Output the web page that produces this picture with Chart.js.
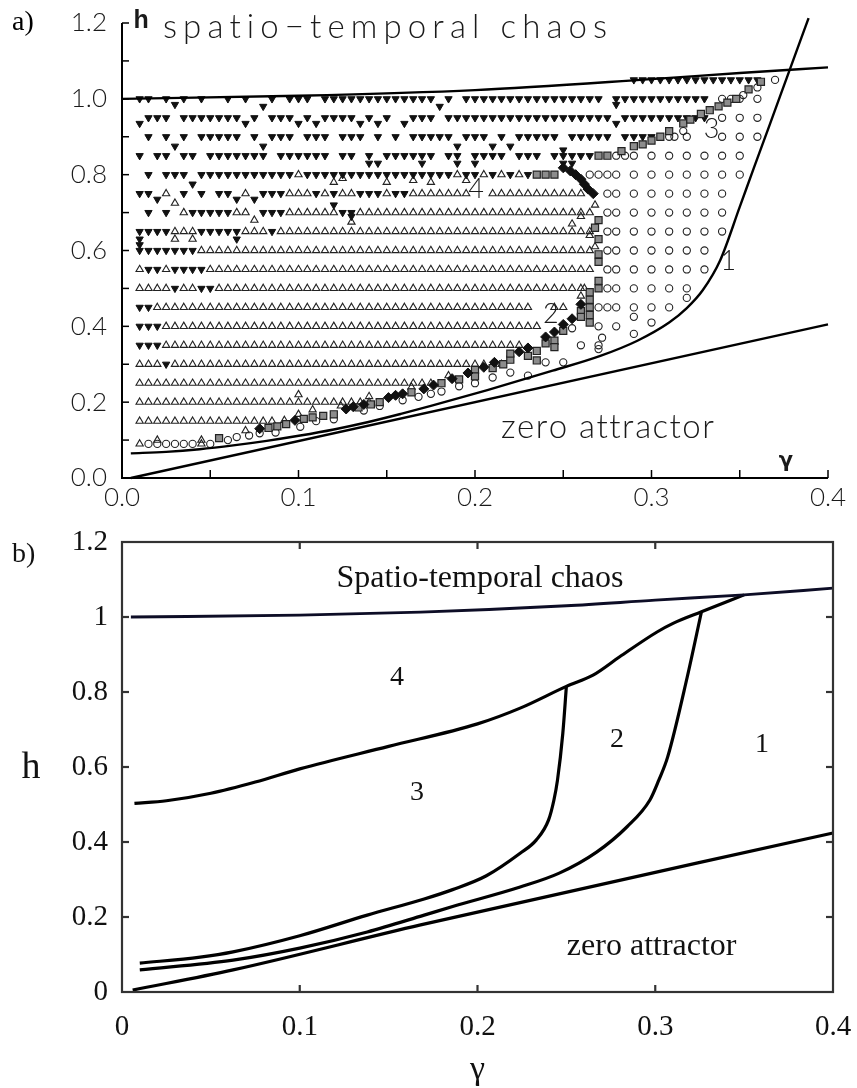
<!DOCTYPE html>
<html>
<head>
<meta charset="utf-8">
<script src="https://cdn.jsdelivr.net/npm/chart.js@4.4.1/dist/chart.umd.min.js"></script>
<style>
    html, body { margin: 0; padding: 0; background: #fff; }
    #wrapA { position: absolute; left: 0; top: 0; width: 857px; height: 515px; }
    #wrapB { position: absolute; left: 0; top: 515px; width: 857px; height: 573px; }
</style>
</head>
<body>
<div id="wrapA"><canvas id="chartA"></canvas></div>
<div id="wrapB"><canvas id="chartB"></canvas></div>
<script>
// ---------- panel a) : simulation grid ----------
// gamma of each grid column
const gridGamma = [
    0.010, 0.015, 0.020, 0.025, 0.030, 0.035, 0.040, 0.045, 0.050, 0.055,
    0.060, 0.065, 0.070, 0.075, 0.080, 0.085, 0.090, 0.095, 0.100, 0.105,
    0.110, 0.115, 0.120, 0.125, 0.130, 0.135, 0.140, 0.145, 0.150, 0.155,
    0.160, 0.165, 0.170, 0.175, 0.180, 0.185, 0.190, 0.195, 0.200, 0.205,
    0.210, 0.215, 0.220, 0.225, 0.230, 0.235, 0.240, 0.245, 0.250, 0.255,
    0.260, 0.265, 0.270, 0.275, 0.280, 0.285, 0.290, 0.295, 0.300, 0.305,
    0.310, 0.315, 0.320, 0.325, 0.330, 0.335, 0.340, 0.345, 0.350, 0.355,
    0.360, 0.365, 0.370
];
const gridRowsH = [1.05, 1.0, 0.95, 0.9, 0.85, 0.8, 0.75, 0.7, 0.65, 0.6,
                   0.55, 0.5, 0.45, 0.4, 0.35, 0.3, 0.25, 0.2, 0.15, 0.09];
// v = filled down triangle, a = open triangle, o = open circle, . = nothing
const gridRows = [
    ".......... .......... .......... .......... .......... ......vvvv vvvvvvvvvv v.o",
    "vv.v.v.v.. v.v..v.vvv .vvvvvvvvv vvvv.v.vvv vvvvvvvvvv vvv.vvvvvv vvvvv.ooo. o..",
    ".vvv.vvvvv vv.v.vvv.v .vvvv.v.v. .vvv.vvvvv vvvvvvvvvv vvvv.vvvvv vvvvv.o.o. o..",
    ".v.v.v.vvv vv.v.vvv.v vv.vvv.v.v .vvvvv.vvv .v.vvvvv.v vvvv.vvvv. o.o...o.o. o..",
    "v.vv.vv.vv vvvvv.vvvv vv.vv.v.vv vvvv.vv.vv vv.vvv.vvv vv..ooo.o. o.o.o.o.o. ...",
    ".v.vvv.vvv vvvvvvvvav vvvvvvvvvv vvvvvvavva vavav..... .oooo.o.o. o.o.o.o.o. ...",
    "vv.a.v.v.v v.a.vvvaaa vavaavvvav vaaaaaaa.. aaaaaaaaaa a..oo.o.o. o.o.o.o... ...",
    ".v.v.avvvv vaa.vvvaaa aaavvaaaaa aaaaaaaaaa aaaaaaaaaa aa.oo.o.o. o.o.o.o... ...",
    "vvvvaaavvv vvaaavaaaa aaaaaaaaaa aaaaaaaaaa aaaaaaaaaa aa.oo.o.o. o.o.o.o... ...",
    "vvvvvvvaaa aaaaaaaaaa aaaaaaaaaa aaaaaaaaaa aaaaaaaaaa aa.oo.o.o. o.o.o..... ...",
    "avvavvvvaa aaaaaaaaaa aaaaaaaaaa aaaaaaaaaa aaaaaaaaaa aa.oo.o.o. o.o.o..... ...",
    "aaaavaavva aaaaaaaaaa aaaaaaaaaa aaaaaaaaaa aaaaaaaaaa a..oo.o.o. o.o....... ...",
    "vvaaaaaaaa aaaaaaaaaa aaaaaaaaaa aaaaaaaaaa aaaaa..aa. ..ooo.o.o. o......... ...",
    "vvvaaaaaaa aaaaaaaaaa aaaaaaaaaa aaaaaaaaaa aaaaaa.... ..o.o..... .......... ...",
    "vvvaaaaaaa aaaaaaaaaa aaaaaaaaaa aaaaaaaaaa aaaa...... o.o....... .......... ...",
    "aaavaaaaaa aaaaaaaaaa aaaaaaaaaa aaaaaaaaaa aa........ .......... .......... ...",
    "aaaaaaaaaa aaaaaaaaaa aaaaaaaaaa aaaa...... .......... .......... .......... ...",
    "aaaaaaaaaa aaaaaaaaaa aaaaaaa... .......... .......... .......... .......... ...",
    "aaaaaaaaaa aaaaaa.... .......... .......... .......... .......... .......... ...",
    "aooooooao. .......... .......... .......... .......... .......... .......... ..."
];

// off-grid markers (d = filled diamond, s = grey square)
const extraKind = [
    "sooaodosso", "sadsaaosoa", "ssoaddsdos", "asodddosao", "ddosodasod",
    "ssodsdosss", "dodsossdso", "dssdsodosd", "ssssssaass", "ssasassaaa",
    "oooooo", "sssddddddd", "vv", "ssssssssos", "sosssssoso", "s",
    "vvvvvvvvvv", "vvvvvvvvvv", "avvaavvvaa", "vaaaaaavvv", "vvvaa"
].join("");
const extraGamma = [
    0.055, 0.06, 0.065, 0.07, 0.072, 0.078, 0.078, 0.083, 0.088, 0.087,
    0.093, 0.092, 0.098, 0.103, 0.1, 0.1, 0.101, 0.108, 0.11, 0.108,
    0.114, 0.12, 0.12, 0.124, 0.127, 0.131, 0.134, 0.137, 0.137, 0.141,
    0.14, 0.146, 0.146, 0.151, 0.155, 0.159, 0.159, 0.164, 0.164, 0.168,
    0.171, 0.1765, 0.175, 0.181, 0.181, 0.187, 0.185, 0.191, 0.191, 0.196,
    0.2, 0.2, 0.2, 0.205, 0.21, 0.211, 0.21, 0.216, 0.22, 0.22,
    0.225, 0.22, 0.23, 0.23, 0.23, 0.235, 0.235, 0.24, 0.24, 0.24,
    0.245, 0.245, 0.245, 0.25, 0.25, 0.25, 0.255, 0.255, 0.26, 0.26,
    0.26, 0.265, 0.265, 0.265, 0.265, 0.265, 0.26, 0.262, 0.27, 0.27,
    0.27, 0.27, 0.268, 0.27, 0.265, 0.268, 0.27, 0.255, 0.26, 0.268,
    0.27, 0.272, 0.29, 0.29, 0.3, 0.32,
    0.235, 0.24, 0.245, 0.25, 0.254, 0.257, 0.26, 0.262, 0.264, 0.267,
    0.25, 0.255,
    0.27, 0.275, 0.283, 0.29, 0.295, 0.3, 0.305, 0.31, 0.313, 0.318,
    0.322, 0.318, 0.328, 0.333, 0.338, 0.343, 0.348, 0.352, 0.355, 0.36,
    0.362,
    0.01, 0.03, 0.07, 0.08, 0.10, 0.11, 0.135, 0.145, 0.16, 0.18,
    0.28, 0.03, 0.08, 0.19, 0.21, 0.22, 0.25, 0.28, 0.04, 0.02,
    0.03, 0.065, 0.075, 0.075, 0.13, 0.13, 0.01, 0.01, 0.03, 0.04,
    0.065, 0.12, 0.125, 0.15, 0.165, 0.175, 0.195, 0.12, 0.14, 0.145,
    0.17, 0.19, 0.2, 0.02, 0.045
];
const extraH = [
    0.105, 0.1, 0.108, 0.125, 0.112, 0.13, 0.118, 0.132, 0.136, 0.12,
    0.142, 0.152, 0.152, 0.156, 0.168, 0.22, 0.135, 0.16, 0.15, 0.18,
    0.164, 0.168, 0.155, 0.19, 0.182, 0.188, 0.186, 0.194, 0.178, 0.194,
    0.215, 0.2, 0.19, 0.212, 0.218, 0.222, 0.205, 0.226, 0.24, 0.214,
    0.235, 0.245, 0.222, 0.25, 0.228, 0.262, 0.27, 0.26, 0.242, 0.277,
    0.285, 0.268, 0.25, 0.292, 0.29, 0.305, 0.265, 0.3, 0.312, 0.328,
    0.333, 0.278, 0.343, 0.322, 0.27, 0.335, 0.31, 0.372, 0.355, 0.305,
    0.385, 0.362, 0.345, 0.405, 0.388, 0.305, 0.42, 0.395, 0.44, 0.458,
    0.425, 0.41, 0.43, 0.45, 0.47, 0.49, 0.48, 0.5, 0.5, 0.52,
    0.57, 0.59, 0.61, 0.63, 0.64, 0.66, 0.68, 0.67, 0.69, 0.72,
    0.34, 0.37, 0.38, 0.425, 0.41, 0.475,
    0.8, 0.8, 0.8, 0.818, 0.81, 0.8, 0.788, 0.775, 0.762, 0.75,
    0.83, 0.83,
    0.85, 0.85, 0.862, 0.875, 0.88, 0.89, 0.9, 0.915, 0.9, 0.935,
    0.945, 0.915, 0.96, 0.97, 0.98, 0.99, 1.0, 1.01, 1.025, 1.03,
    1.045,
    0.935, 0.985, 0.935, 0.98, 0.935, 0.935, 0.935, 0.935, 0.935, 0.98,
    0.985, 0.875, 0.875, 0.875, 0.875, 0.875, 0.865, 0.935, 0.775, 0.735,
    0.725, 0.735, 0.735, 0.68, 0.675, 0.69, 0.63, 0.615, 0.63, 0.63,
    0.63, 0.78, 0.79, 0.78, 0.785, 0.78, 0.785, 0.72, 0.83, 0.83,
    0.83, 0.83, 0.83, 0.1, 0.1
];

// boundary curves of panel a)
const topA_g = [0, 0.1, 0.2, 0.3, 0.35, 0.4];
const topA_h = [1.0, 1.008, 1.023, 1.052, 1.068, 1.083];
const curve1A_g = [0.005, 0.025, 0.044, 0.063, 0.082, 0.101, 0.12, 0.139, 0.158, 0.175, 0.207, 0.244,
                   0.271, 0.292, 0.31, 0.32, 0.329, 0.339, 0.35, 0.358, 0.367, 0.377, 0.389];
const curve1A_h = [0.065, 0.069, 0.076, 0.086, 0.098, 0.112, 0.128, 0.147, 0.169, 0.19, 0.232, 0.283,
                   0.322, 0.362, 0.41, 0.448, 0.495, 0.575, 0.715, 0.818, 0.932, 1.06, 1.213];
const zeroA_g = [0.005, 0.4];
const zeroA_h = [0.0, 0.405];

const minorA_x = [0.05, 0.1, 0.15, 0.2, 0.25, 0.3, 0.35, 0.4];
const minorA_y = [0.1, 0.2, 0.3, 0.4, 0.5, 0.6, 0.7, 0.8, 0.9, 1.0, 1.1, 1.2];
const ticksA_xVal = [0, 0.1, 0.2, 0.3, 0.4];
const ticksA_xTxt = ['0.0', '0.1', '0.2', '0.3', '0.4'];
const ticksA_yVal = [0, 0.2, 0.4, 0.6, 0.8, 1.0, 1.2];
const ticksA_yTxt = ['0.0', '0.2', '0.4', '0.6', '0.8', '1.0', '1.2'];

// ---------- panel b) : phase diagram ----------
const chaosB_g = [0.005, 0.1, 0.168, 0.25, 0.3, 0.35, 0.4];
const chaosB_h = [1.0, 1.005, 1.013, 1.03, 1.045, 1.059, 1.077];
const curve43_g = [0.007, 0.025, 0.05, 0.075, 0.1, 0.15, 0.2, 0.224, 0.25, 0.265, 0.28, 0.301, 0.31, 0.326, 0.35];
const curve43_h = [0.503, 0.51, 0.53, 0.56, 0.595, 0.655, 0.715, 0.757, 0.815, 0.845, 0.894, 0.96, 0.983, 1.014, 1.059];
const curve32_g = [0.01, 0.044, 0.0625, 0.1, 0.138, 0.17, 0.186, 0.205, 0.224, 0.233, 0.24, 0.243, 0.245, 0.248, 0.25];
const curve32_h = [0.077, 0.093, 0.107, 0.15, 0.205, 0.248, 0.273, 0.31, 0.37, 0.405, 0.459, 0.512, 0.565, 0.69, 0.815];
const curve21_g = [0.01, 0.0625, 0.1, 0.138, 0.17, 0.186, 0.224, 0.246, 0.267, 0.284, 0.297, 0.302, 0.307, 0.318, 0.326];
const curve21_h = [0.059, 0.085, 0.117, 0.16, 0.205, 0.228, 0.28, 0.317, 0.373, 0.44, 0.512, 0.565, 0.627, 0.84, 1.014];
const zeroB_g = [0.006, 0.0625, 0.168, 0.4];
const zeroB_h = [0.005, 0.059, 0.179, 0.424];

const ticksB_xVal = [0, 0.1, 0.2, 0.3, 0.4];
const ticksB_xTxt = ['0', '0.1', '0.2', '0.3', '0.4'];
const ticksB_yVal = [0, 0.2, 0.4, 0.6, 0.8, 1.0, 1.2];
const ticksB_yTxt = ['0', '0.2', '0.4', '0.6', '0.8', '1', '1.2'];

// ---------- helpers ----------
function curve(gs, hs, color, width) {
    return {
        data: gs.map((g, i) => ({ x: g, y: hs[i] })),
        showLine: true, borderColor: color, borderWidth: width,
        pointRadius: 0, fill: false, clip: false,
        cubicInterpolationMode: 'monotone'
    };
}

function collectMarkers() {
    const sets = { v: [], a: [], o: [], d: [], s: [] };
    gridRows.forEach((row, r) => {
        const cells = row.replace(/ /g, '');
        for (let i = 0; i < cells.length && i < gridGamma.length; i++) {
            if (sets[cells[i]]) sets[cells[i]].push({ x: gridGamma[i], y: gridRowsH[r] });
        }
    });
    for (let i = 0; i < extraKind.length; i++) {
        sets[extraKind[i]].push({ x: extraGamma[i], y: extraH[i] });
    }
    return sets;
}

function drawSpaced(ctx, text, cx, baseY, width) {
    const chars = [...text];
    const ws = chars.map(c => ctx.measureText(c).width);
    const total = ws.reduce((a, b) => a + b, 0);
    const gap = chars.length > 1 ? (width - total) / (chars.length - 1) : 0;
    let x = cx - width / 2;
    ctx.textAlign = 'left';
    chars.forEach((c, i) => { ctx.fillText(c, x, baseY); x += ws[i] + gap; });
}

function seg(ctx, x1, y1, x2, y2) {
    ctx.beginPath(); ctx.moveTo(x1, y1); ctx.lineTo(x2, y2); ctx.stroke();
}

function baseOptions(pad) {
    return {
        responsive: true,
        maintainAspectRatio: false,
        animation: false,
        layout: { padding: pad },
        plugins: { legend: { display: false }, tooltip: { enabled: false } },
        scales: {
            x: { type: 'linear', min: 0, max: 0.4, display: false },
            y: { type: 'linear', min: 0, max: 1.2, display: false }
        }
    };
}

// ---------- panel a) decorations ----------
const panelA = {
    id: 'panelA',
    afterDatasetsDraw(chart) {
        const { ctx, scales: { x, y } } = chart;
        const left = x.getPixelForValue(0), right = x.getPixelForValue(0.4);
        const bottom = y.getPixelForValue(0), top = y.getPixelForValue(1.2);
        ctx.save();
        ctx.strokeStyle = '#000';
        ctx.lineWidth = 2;
        ctx.beginPath();
        ctx.moveTo(left, top); ctx.lineTo(left, bottom); ctx.lineTo(right, bottom);
        ctx.stroke();
        ctx.lineWidth = 1.5;
        minorA_y.forEach(v => { const py = y.getPixelForValue(v); seg(ctx, left, py, left + 7, py); });
        minorA_x.forEach(v => { const px = x.getPixelForValue(v); seg(ctx, px, bottom, px, bottom - 8); });

        ctx.fillStyle = '#1a1a1a';
        ctx.font = '300 26px Lato, "DejaVu Sans", sans-serif';
        ctx.textBaseline = 'middle';
        ctx.textAlign = 'right';
        ticksA_yVal.forEach((v, i) => ctx.fillText(ticksA_yTxt[i], left - 15, y.getPixelForValue(v)));
        ctx.textAlign = 'center';
        ticksA_xVal.forEach((v, i) => ctx.fillText(ticksA_xTxt[i], x.getPixelForValue(v), bottom + 20));

        ctx.textBaseline = 'alphabetic';
        ctx.font = '300 33px Lato, "DejaVu Sans", sans-serif';
        drawSpaced(ctx, 'spatio\u2212temporal chaos', x.getPixelForValue(0.149), y.getPixelForValue(1.161), 444);
        drawSpaced(ctx, 'zero attractor', x.getPixelForValue(0.275), y.getPixelForValue(0.1055), 213);

        ctx.textAlign = 'center';
        ctx.font = '300 27px Lato, "DejaVu Sans", sans-serif';
        [['1', 0.3435, 0.549], ['2', 0.243, 0.409], ['3', 0.334, 0.897], ['4', 0.2006, 0.739]].forEach(([t, g, h]) =>
            ctx.fillText(t, x.getPixelForValue(g), y.getPixelForValue(h)));

        ctx.font = 'bold 25px "Liberation Sans", Arial, sans-serif';
        ctx.fillText('h', x.getPixelForValue(0.0108), y.getPixelForValue(1.187));
        ctx.font = 'bold 21px "DejaVu Sans", sans-serif';
        ctx.fillText('\u03b3', x.getPixelForValue(0.3762), y.getPixelForValue(0.029));

        ctx.font = '28px "Liberation Serif", "Times New Roman", serif';
        ctx.textAlign = 'left';
        ctx.fillStyle = '#000';
        ctx.fillText('a)', 12, 30);
        ctx.restore();
    }
};

// ---------- panel b) decorations ----------
const panelB = {
    id: 'panelB',
    afterDatasetsDraw(chart) {
        const { ctx, scales: { x, y } } = chart;
        const left = x.getPixelForValue(0), right = x.getPixelForValue(0.4);
        const bottom = y.getPixelForValue(0), top = y.getPixelForValue(1.2);
        ctx.save();
        ctx.strokeStyle = '#333';
        ctx.lineWidth = 2.2;
        ctx.strokeRect(left, top, right - left, bottom - top);
        ticksB_xVal.slice(1, -1).forEach(v => {
            const px = x.getPixelForValue(v);
            seg(ctx, px, bottom, px, bottom - 7);
            seg(ctx, px, top, px, top + 7);
        });
        ticksB_yVal.slice(1, -1).forEach(v => {
            const py = y.getPixelForValue(v);
            seg(ctx, left, py, left + 7, py);
            seg(ctx, right, py, right - 7, py);
        });

        ctx.fillStyle = '#111';
        ctx.font = '29px "Liberation Serif", "Times New Roman", serif';
        ctx.textBaseline = 'middle';
        ctx.textAlign = 'right';
        ticksB_yVal.forEach((v, i) => ctx.fillText(ticksB_yTxt[i], left - 14, y.getPixelForValue(v)));
        ctx.textAlign = 'center';
        ticksB_xVal.forEach((v, i) => ctx.fillText(ticksB_xTxt[i], x.getPixelForValue(v), bottom + 35));

        ctx.textBaseline = 'alphabetic';
        ctx.font = '32px "Liberation Serif", "Times New Roman", serif';
        ctx.fillText('Spatio-temporal chaos', x.getPixelForValue(0.2014), y.getPixelForValue(1.08));
        ctx.fillText('zero attractor', x.getPixelForValue(0.298), y.getPixelForValue(0.0987));
        ctx.font = '28px "Liberation Serif", "Times New Roman", serif';
        [['4', 0.1547, 0.819], ['3', 0.166, 0.512], ['2', 0.2785, 0.653], ['1', 0.36, 0.64]].forEach(([t, g, h]) =>
            ctx.fillText(t, x.getPixelForValue(g), y.getPixelForValue(h)));

        ctx.font = '38px "Liberation Serif", "Times New Roman", serif';
        ctx.fillText('h', 31, 263);
        ctx.textBaseline = 'middle';
        ctx.font = '34px "Liberation Serif", "Times New Roman", serif';
        ctx.fillText('\u03b3', x.getPixelForValue(0.2), 555);
        ctx.textBaseline = 'alphabetic';
        ctx.textAlign = 'left';
        ctx.font = '28px "Liberation Serif", "Times New Roman", serif';
        ctx.fillText('b)', 12, 47);
        ctx.restore();
    }
};

// ---------- build charts ----------
const pts = collectMarkers();
const chartA = new Chart(document.getElementById('chartA'), {
    type: 'scatter',
    data: {
        datasets: [
            curve(topA_g, topA_h, '#000', 2.4),
            curve(curve1A_g, curve1A_h, '#000', 2.4),
            curve(zeroA_g, zeroA_h, '#000', 2.4),
            { data: pts.d, pointStyle: 'rectRot', pointRadius: 5, pointBackgroundColor: '#111', pointBorderColor: '#111', pointBorderWidth: 1 },
            { data: pts.s, pointStyle: 'rect', pointRadius: 5, pointBackgroundColor: '#8c8c8c', pointBorderColor: '#222', pointBorderWidth: 1.2 },
            { data: pts.v, pointStyle: 'triangle', pointRotation: 180, pointRadius: 4.2, pointBackgroundColor: '#111', pointBorderColor: '#111', pointBorderWidth: 1 },
            { data: pts.a, pointStyle: 'triangle', pointRadius: 4.2, pointBackgroundColor: 'rgba(255,255,255,0)', pointBorderColor: '#222', pointBorderWidth: 1.1 },
            { data: pts.o, pointStyle: 'circle', pointRadius: 3.6, pointBackgroundColor: 'rgba(255,255,255,0)', pointBorderColor: '#222', pointBorderWidth: 1.1 }
        ]
    },
    options: baseOptions({ left: 122, right: 29, top: 23, bottom: 37 }),
    plugins: [panelA]
});

const chartB = new Chart(document.getElementById('chartB'), {
    type: 'scatter',
    data: {
        datasets: [
            curve(chaosB_g, chaosB_h, '#0d0d26', 3),
            curve(curve43_g, curve43_h, '#000', 3.2),
            curve(curve32_g, curve32_h, '#000', 3.2),
            curve(curve21_g, curve21_h, '#000', 3.2),
            curve(zeroB_g, zeroB_h, '#000', 3.2)
        ]
    },
    options: baseOptions({ left: 122, right: 24, top: 27, bottom: 96 }),
    plugins: [panelB]
});
</script>
</body>
</html>
